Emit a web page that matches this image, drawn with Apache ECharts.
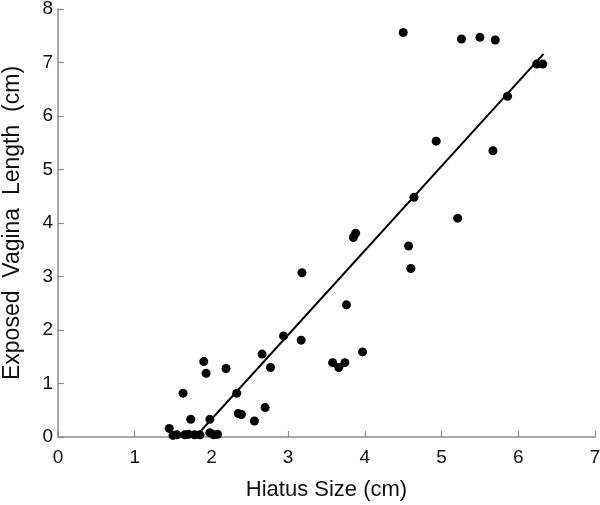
<!DOCTYPE html>
<html>
<head>
<meta charset="utf-8">
<script src="https://cdn.jsdelivr.net/npm/echarts@6/dist/echarts.min.js"></script>
<style>html,body{margin:0;padding:0;background:#fff}#c{width:600px;height:505px}</style>
</head>
<body>
<div id="c"></div>
<script>
const hiatusSize = [1.45,1.50,1.55,1.63,1.65,1.70,1.73,1.78,1.85,1.90,1.93,1.98,1.98,2.03,2.08,2.19,2.33,2.35,2.39,2.56,2.66,2.70,2.77,2.94,3.17,3.18,3.58,3.66,3.74,3.76,3.85,3.88,3.97,4.50,4.57,4.60,4.64,4.93,5.21,5.26,5.50,5.67,5.70,5.86,6.24,6.32];
const vaginaLength = [0.16,0.03,0.04,0.82,0.04,0.05,0.33,0.04,0.04,1.41,1.19,0.33,0.08,0.04,0.05,1.28,0.82,0.44,0.42,0.30,1.55,0.55,1.30,1.89,1.81,3.07,1.39,1.30,1.39,2.47,3.73,3.81,1.59,7.56,3.57,3.15,4.48,5.53,4.09,7.44,7.47,5.35,7.42,6.37,6.97,6.97];
const fitX = [1.79, 6.33];
const fitY = [0, 7.16];
const xTicks = [0,1,2,3,4,5,6,7];
const yTicks = [0,1,2,3,4,5,6,7,8];

const points = hiatusSize.map((x,i)=>[x, vaginaLength[i]]);
const fitLine = fitX.map((x,i)=>[x, fitY[i]]);
const font = 'Liberation Sans, Arial, Helvetica, sans-serif';
const axisGray = '#8c8c8c';

const chart = echarts.init(document.getElementById('c'), null, {renderer:'canvas'});
chart.setOption({
  animation: false,
  backgroundColor: '#fff',
  grid: {left: 58, right: 5, top: 9, bottom: 68, containLabel: false, outerBoundsMode: 'none'},
  xAxis: {
    type: 'value', min: xTicks[0], max: xTicks[xTicks.length-1], interval: 1,
    name: 'Hiatus Size (cm)', nameLocation: 'middle', nameGap: 42,
    nameTextStyle: {fontFamily: font, fontSize: 22, color: '#111'},
    axisLine: {show: true, lineStyle: {color: axisGray, width: 1.5}},
    axisTick: {show: true, inside: true, length: 6, lineStyle: {color: axisGray, width: 1.2}},
    axisLabel: {fontFamily: font, fontSize: 19, color: '#111', margin: 11},
    splitLine: {show: false}
  },
  yAxis: {
    type: 'value', min: yTicks[0], max: yTicks[yTicks.length-1], interval: 1,
    name: 'Exposed  Vagina  Length  (cm)', nameLocation: 'middle', nameGap: 34,
    nameTextStyle: {fontFamily: font, fontSize: 23, color: '#111'},
    axisLine: {show: true, lineStyle: {color: axisGray, width: 1.5}},
    axisTick: {show: true, inside: true, length: 6, lineStyle: {color: axisGray, width: 1.2}},
    axisLabel: {fontFamily: font, fontSize: 19, color: '#111', margin: 5},
    splitLine: {show: false}
  },
  series: [
    {type: 'scatter', data: points, symbol: 'circle', symbolSize: 9,
     itemStyle: {color: '#000', opacity: 1}, z: 3},
    {type: 'line', data: fitLine, symbol: 'none', showSymbol: false,
     lineStyle: {color: '#000', width: 2}, z: 2}
  ]
});
</script>
</body>
</html>
